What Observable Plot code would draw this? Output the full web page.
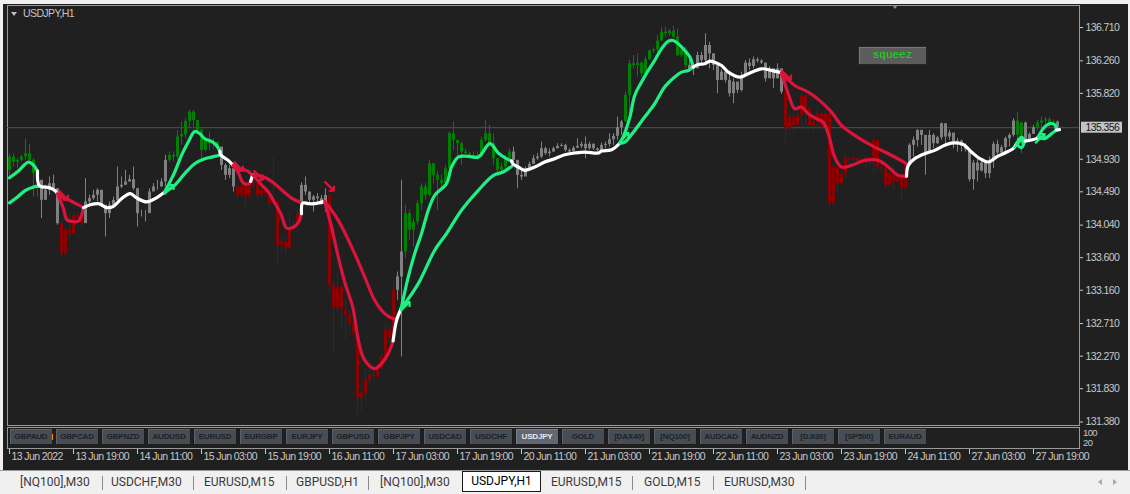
<!DOCTYPE html>
<html><head><meta charset="utf-8">
<script src="https://cdn.jsdelivr.net/npm/d3@7"></script>
<script src="https://cdn.jsdelivr.net/npm/@observablehq/plot@0.6"></script>
<style>
body{margin:0;width:1130px;height:494px;background:#f0f0f0;position:relative;overflow:hidden;font-family:'Liberation Sans',sans-serif}
#win{position:absolute;left:3px;top:4px;width:1125px;height:466px;background:#202020}
#chart{position:absolute;left:0;top:0}
.abs{position:absolute}
.narrow{font-family:'Liberation Sans',sans-serif;letter-spacing:-0.6px}
.btn{position:absolute;top:428px;width:42px;height:15px;background:#474d55;border:1px solid #1c1c1c;box-shadow:inset 1px 1px 0 #5c626a;color:#1e2124;font:bold 8px 'Liberation Sans',sans-serif;letter-spacing:-0.2px;text-align:center;line-height:15px;overflow:hidden;white-space:nowrap}
.btn.on{background:#5f6873;color:#e8e8e8;box-shadow:inset 1px 1px 0 #7a838e}
.tab{position:absolute;top:474px;font:12px Roboto,'Noto Sans',sans-serif;color:#3a3a3a;white-space:nowrap;line-height:16px}
.sep{position:absolute;top:476px;width:1px;height:14px;background:#8a8a8a}
</style></head><body>
<div id="win"></div>
<div id="chart"></div>
<script>
// ---------------- data ----------------
const symbol = "USDJPY,H1";
const firstOpen = 134.78;
const bidPrice = 135.356;
const closes = [
134.960,134.893,134.915,134.960,135.005,134.915,134.735,134.645,134.375,134.510,
134.600,134.533,134.060,133.655,133.970,133.925,134.173,134.128,134.060,134.353,
134.398,134.443,134.510,134.308,134.195,134.308,134.375,134.555,134.578,134.623,
134.654,134.533,134.195,134.195,134.195,134.488,134.555,134.555,134.623,134.915,
134.982,134.960,135.230,135.261,135.441,135.567,135.455,135.320,135.050,135.185,
135.140,135.162,135.095,134.847,134.712,134.802,134.555,134.442,134.577,134.420,
134.622,134.600,134.442,134.510,134.465,134.330,134.352,133.767,133.812,133.722,
133.992,134.037,134.195,134.577,134.487,134.375,134.420,134.397,134.352,134.442,
133.227,132.912,133.205,132.890,132.822,132.710,132.575,131.697,131.765,131.945,
132.012,131.990,132.102,132.260,132.620,132.507,133.160,133.340,133.677,134.195,
133.970,134.082,134.330,134.555,134.442,134.870,134.712,134.645,134.600,134.802,
135.275,135.185,135.140,135.027,135.005,134.982,134.982,134.960,135.185,135.275,
135.140,134.937,134.780,134.825,134.937,135.027,134.915,134.712,134.690,134.802,
134.861,134.937,134.960,135.072,135.005,135.027,135.072,135.104,135.117,135.050,
135.027,135.081,135.104,135.131,135.072,135.131,135.072,135.050,135.117,135.131,
135.194,135.239,135.356,135.432,135.792,136.220,136.197,136.229,136.085,136.274,
136.391,136.409,136.526,136.647,136.625,136.661,136.580,136.332,136.409,136.197,
136.139,136.152,136.332,136.265,136.467,136.355,136.197,135.995,136.107,135.995,
135.815,135.972,135.860,136.062,136.229,136.184,136.274,136.256,136.229,136.017,
136.152,136.017,136.152,135.837,135.342,135.500,135.387,135.522,135.792,135.612,
135.387,135.432,135.545,135.365,135.545,134.330,134.825,134.600,134.735,134.937,
134.915,134.937,134.906,134.879,134.937,134.892,135.185,134.825,134.802,134.577,
134.735,134.622,134.690,134.532,134.847,135.118,135.185,135.320,135.253,135.005,
135.253,135.140,135.221,135.410,135.230,135.284,135.140,135.176,135.104,135.059,
134.654,134.879,134.771,134.879,134.735,134.906,135.131,135.014,135.086,135.208,
135.253,135.446,135.253,135.419,135.185,135.266,135.356,135.419,135.446,135.464,
135.388,135.433,135.356];
const highs = [
135.005,135.000,134.938,134.980,135.208,135.131,134.938,134.780,134.578,134.578,
134.690,134.713,134.398,134.105,134.015,134.195,134.218,134.218,134.150,134.668,
134.443,134.510,134.533,134.510,134.285,134.353,134.420,134.825,134.690,134.780,
134.713,134.825,134.533,134.240,134.240,134.533,134.600,134.645,134.668,134.983,
135.027,135.027,135.320,135.432,135.477,135.590,135.590,135.387,135.342,135.230,
135.297,135.207,135.140,135.072,134.870,134.847,134.735,134.555,134.622,134.600,
134.667,134.690,134.600,134.577,134.532,134.487,134.960,134.352,133.880,133.880,
134.217,134.105,134.240,134.613,134.690,134.487,134.442,134.465,134.442,134.532,
134.375,133.295,133.385,133.205,133.025,132.890,132.890,132.620,131.855,132.080,
132.215,132.080,132.147,132.350,132.710,132.665,133.295,133.407,134.645,134.307,
134.240,134.127,134.375,134.600,134.600,134.915,134.802,134.757,134.712,134.847,
135.297,135.432,135.185,135.162,135.072,135.027,135.027,135.027,135.230,135.455,
135.387,135.275,134.937,134.870,134.982,135.072,135.095,134.915,134.802,134.825,
134.892,134.982,135.005,135.162,135.095,135.072,135.095,135.140,135.140,135.131,
135.072,135.104,135.207,135.162,135.230,135.162,135.140,135.081,135.149,135.162,
135.275,135.275,135.500,135.455,135.837,136.265,136.332,136.355,136.242,136.310,
136.409,136.436,136.602,136.715,136.715,136.679,136.724,136.692,136.445,136.445,
136.274,136.197,136.377,136.377,136.625,136.512,136.242,136.197,136.139,136.139,
136.085,136.017,135.972,136.107,136.265,136.287,136.310,136.301,136.274,136.220,
136.184,136.152,136.220,136.107,136.062,135.545,135.590,135.567,135.837,135.860,
135.590,135.500,135.657,135.522,135.612,135.567,134.870,134.802,134.802,135.005,
134.960,134.969,134.951,134.946,134.982,134.960,135.207,135.185,134.879,134.870,
134.789,134.825,134.744,134.735,134.892,135.140,135.230,135.329,135.320,135.185,
135.320,135.275,135.239,135.419,135.388,135.320,135.208,135.208,135.185,135.140,
135.073,134.915,134.960,134.915,134.893,134.960,135.163,135.185,135.118,135.230,
135.275,135.478,135.568,135.433,135.433,135.284,135.388,135.455,135.500,135.491,
135.491,135.464,135.446];
const lows = [
134.645,134.825,134.803,134.893,134.915,134.893,134.420,134.420,134.128,134.420,
134.443,134.510,134.038,133.588,133.633,133.858,134.015,134.083,133.993,134.240,
134.308,134.375,134.353,134.285,133.880,134.128,134.308,134.375,134.533,134.578,
134.623,134.510,134.015,134.150,134.083,134.375,134.510,134.510,134.555,134.555,
134.892,134.892,134.915,135.117,135.207,135.342,135.365,135.275,134.937,135.027,
135.050,135.072,135.050,134.780,134.645,134.667,134.487,134.375,134.420,134.285,
134.487,134.532,134.397,134.420,134.420,134.285,134.307,133.497,133.677,133.655,
133.700,133.970,133.947,134.195,134.442,134.330,134.217,134.352,134.307,134.217,
133.137,132.305,132.845,132.620,132.485,132.575,132.530,131.472,131.517,131.675,
131.855,131.945,132.012,132.080,132.260,132.462,132.485,133.025,132.260,133.587,
133.835,133.745,134.037,134.240,134.375,134.420,134.600,134.240,134.555,134.577,
134.780,135.050,134.960,134.847,134.960,134.937,134.937,134.915,134.960,135.162,
135.095,134.847,134.712,134.757,134.780,134.915,134.869,134.532,134.645,134.735,
134.802,134.870,134.915,134.937,134.982,134.960,135.027,135.072,135.095,135.027,
135.005,135.041,135.072,135.072,134.937,135.050,135.050,135.027,135.041,135.072,
135.095,135.117,135.185,135.252,135.432,135.455,136.152,136.040,136.040,136.062,
136.265,136.364,136.377,136.535,136.580,136.589,136.560,136.310,136.301,136.152,
136.121,136.062,136.175,136.220,136.220,136.152,136.130,135.815,136.017,135.959,
135.770,135.680,135.815,135.837,136.040,136.130,136.152,136.229,136.211,135.972,
136.076,135.882,136.017,135.806,135.140,135.297,135.275,135.413,135.320,135.320,
135.320,135.275,135.275,135.297,135.342,134.262,134.307,134.465,134.667,134.690,
134.870,134.879,134.870,134.847,134.780,134.847,134.735,134.789,134.757,134.532,
134.645,134.510,134.622,134.330,134.510,134.825,134.960,135.095,135.118,134.713,
135.095,135.073,135.131,135.185,135.118,135.185,135.073,135.028,135.028,135.028,
134.623,134.510,134.623,134.758,134.668,134.668,134.803,134.983,134.969,134.983,
135.095,135.230,135.118,135.005,135.149,135.176,135.275,135.320,135.343,135.401,
135.356,135.374,135.343];
// trend state per bar, run-length: u = up (green), d = down (red), n = neutral (gray)
const stateRuns = [["u",8],["n",5],["d",6],["n",21],["u",13],["n",4],["d",16],["n",7],["d",17],["n",2],
["u",27],["n",28],["u",16],["n",24],["d",31],["n",27],["u",2],["n",3],["u",5],["n",1]];
// fast line knots: [bar, price, state of segment to next knot]
const fastKnots = [
[0,134.68,"u"],[2,134.76,"u"],[4.75,134.89,"u"],[6,134.85,"u"],[7,134.77,"n"],[7.5,134.57,"n"],[10,134.546,"n"],[11.5,134.50,"n"],
[12,134.465,"d"],[13.5,134.26,"d"],[14.3,134.115,"d"],[15.5,134.09,"d"],[17.25,134.096,"d"],[18,134.17,"d"],
[18.5,134.276,"n"],[20.2,134.316,"n"],[22.25,134.33,"n"],[24.3,134.276,"n"],[26,134.294,"n"],[28,134.397,"n"],[30.2,134.465,"n"],[31.8,134.407,"n"],[34.3,134.353,"n"],[36.4,134.398,"n"],
[38.8,134.487,"u"],[41.3,134.757,"u"],[43,134.982,"u"],[44.7,135.162,"u"],[46.3,135.306,"u"],[47.6,135.275,"u"],[48.8,135.207,"u"],[50.5,135.171,"u"],[51.75,135.117,"u"],
[52.6,135.036,"n"],[52.8,134.99,"n"],[54.7,134.915,"n"],
[55.9,134.847,"d"],[57.2,134.748,"d"],[58.4,134.613,"d"],[59.7,134.595,"d"],[60.3,134.631,"n"],
[60.8,134.72,"d"],[63,134.586,"d"],[64.7,134.487,"d"],[66.3,134.343,"d"],[68,134.172,"d"],[69.25,134.001,"d"],[70.9,134.01,"d"],[72.2,134.073,"d"],
[73,134.195,"n"],[73.3,134.339,"n"],[74.7,134.33,"n"],[76.3,134.33,"n"],
[78.8,134.361,"d"],[80.5,134.015,"d"],[82.2,133.61,"d"],[83.8,133.272,"d"],[85.9,132.912,"d"],[87.2,132.485,"d"],[88.8,132.215,"d"],[91.3,132.102,"d"],[93,132.17,"d"],[94.7,132.305,"d"],
[95.9,132.476,"n"],[96.75,132.75,"n"],
[97.9,132.91,"u"],[99.7,133.34,"u"],[101.3,133.655,"u"],[103,133.925,"u"],[104.7,134.24,"u"],[106.3,134.442,"u"],[109.25,134.6,"u"],[110.5,134.825,"u"],[112.2,134.96,"u"],[114.7,134.969,"u"],[117.2,134.96,"u"],[120.1,135.14,"u"],[122.2,135.014,"u"],[124.25,134.937,"u"],
[125.5,134.906,"n"],[126,134.86,"n"],[127.2,134.825,"n"],[128.8,134.78,"n"],[131.3,134.825,"n"],[133.8,134.892,"n"],[136.3,134.937,"n"],[138.8,134.991,"n"],[141.3,135.014,"n"],[143.8,135.027,"n"],[147.2,135.014,"n"],[148,135.041,"n"],[150.5,135.059,"n"],
[152.6,135.149,"u"],[153.4,135.23,"u"],[155.1,135.5,"u"],[156.3,135.792,"u"],[158,135.972,"u"],[159.7,136.13,"u"],[161.3,136.265,"u"],[163,136.422,"u"],[164.7,136.526,"u"],[165.9,136.535,"u"],[167.2,136.49,"u"],[168.8,136.4,"u"],[170.1,136.31,"u"],
[170.9,136.175,"n"],[172.2,136.211,"n"],[173.8,136.22,"n"],[175.1,136.256,"n"],[176.3,136.242,"n"],[178,136.197,"n"],[179.7,136.107,"n"],[182.6,136.04,"n"],[184.7,136.085,"n"],[188,136.152,"n"],[190.5,136.13,"n"],
[193,136.098,"d"],[194.7,135.815,"d"],[196.3,135.612,"d"],[198,135.635,"d"],[199.7,135.545,"d"],[201.75,135.477,"d"],[203.4,135.432,"d"],[204.7,135.275,"d"],[206.3,134.96,"d"],[208,134.825,"d"],[210.5,134.847,"d"],[213.8,134.915,"d"],[217.2,134.915,"d"],[219.7,134.825,"d"],[222.2,134.712,"d"],
[224.25,134.70,"n"],[224.7,134.848,"n"],[226.3,134.938,"n"],[228.8,135.005,"n"],[231.3,135.05,"n"],[233.8,135.118,"n"],[235.5,135.149,"n"],[238.4,135.131,"n"],[240.5,135.028,"n"],[242.6,134.938,"n"],[244.7,134.893,"n"],[246.75,134.96,"n"],[248.8,135.014,"n"],[250.9,135.073,"n"],
[251.75,135.14,"u"],[253,135.23,"u"],[253.8,135.175,"n"],[256.75,135.208,"n"],
[257.2,135.23,"u"],[258.4,135.343,"u"],[260,135.41,"u"],[261.3,135.397,"u"],[261.75,135.325,"n"],[262.5,135.33,"n"]];
// slow line knots (only its trend stretches; "n" = ends, merges with the white line)
const slowKnots = [
[0,134.34,"u"],[2,134.42,"u"],[4,134.51,"u"],[6,134.555,"u"],[7.5,134.57,"n"],
[12,134.465,"d"],[13,134.42,"d"],[15,134.375,"d"],[17,134.32,"d"],[18.5,134.276,"n"],
[38.8,134.487,"u"],[41.3,134.577,"u"],[43.8,134.735,"u"],[46.3,134.87,"u"],[48.8,134.937,"u"],[51.3,134.969,"u"],[52.8,134.99,"n"],
[55.9,134.847,"d"],[57.2,134.811,"d"],[58.4,134.793,"d"],[59.7,134.766,"d"],[60.3,134.735,"n"],
[60.8,134.72,"d"],[63,134.703,"d"],[65.5,134.631,"d"],[68,134.519,"d"],[70.5,134.406,"d"],[73.3,134.339,"n"],
[78.8,134.361,"d"],[82.2,134.105,"d"],[86.3,133.655,"d"],[88.8,133.34,"d"],[91.3,133.025,"d"],[93.8,132.845,"d"],[95.9,132.777,"d"],[96.75,132.777,"n"],
[97.9,132.91,"u"],[102.2,133.25,"u"],[106.3,133.7,"u"],[109.25,133.925,"u"],[113,134.24,"u"],[117.2,134.51,"u"],[121,134.712,"u"],[123.4,134.757,"u"],[125.5,134.833,"n"],
[152.6,135.149,"u"],[153.8,135.162,"u"],[156.3,135.32,"u"],[158.8,135.5,"u"],[161.3,135.68,"u"],[163.8,135.905,"u"],[166.3,136.04,"u"],[168,136.107,"u"],[169.7,136.13,"u"],[170.9,136.175,"n"],
[193,136.098,"d"],[196.3,135.927,"d"],[199.7,135.837,"d"],[203,135.702,"d"],[205.5,135.567,"d"],[208,135.387,"d"],[211.3,135.252,"d"],[215.5,135.117,"d"],[218,135.05,"d"],[221.3,134.96,"d"],[224.25,134.87,"n"],
[251.75,135.14,"u"],[253,135.086,"u"],[253.8,135.175,"n"],
[257.2,135.23,"u"],[258.8,135.208,"u"],[260.5,135.275,"u"],[261.75,135.325,"n"]];
// signal arrows: bar, price, direction
const signalBars   = [13.25, 57, 62, 79.75, 194, 39.75, 98.75, 153.5, 252, 257.5];
const signalPrices = [134.44, 134.82, 134.71, 134.55, 136.06, 134.51, 132.94, 135.225, 135.14, 135.21];
const signalDirs   = ["d","d","d","d","d","u","u","u","u","u"];
const priceTicks = [136.710,136.260,135.820,134.930,134.490,134.040,133.600,133.160,132.710,132.270,131.830,131.380];
const timeTickBars = [0,16,32,48,64,80,96,112,128,144,160,176,192,208,224,240,256];
const timeLabels = ["13 Jun 2022","13 Jun 19:00","14 Jun 11:00","15 Jun 03:00","15 Jun 19:00","16 Jun 11:00","17 Jun 03:00","17 Jun 19:00","20 Jun 11:00","21 Jun 03:00","21 Jun 19:00","22 Jun 11:00","23 Jun 03:00","23 Jun 19:00","24 Jun 11:00","27 Jun 03:00","27 Jun 19:00"];
const buttonLabels = ["GBPAUD","GBPCAD","GBPNZD","AUDUSD","EURUSD","EURGBP","EURJPY","GBPUSD","GBPJPY","USDCAD","USDCHF","USDJPY","GOLD","[DAX40]","[NQ100]","AUDCAD","AUDNZD","[DJI30]","[SP500]","EURAUD"];
const activeButton = "USDJPY";
const tabLabels = ["[NQ100],M30","USDCHF,M30","EURUSD,M15","GBPUSD,H1","[NQ100],M30","USDJPY,H1","EURUSD,M15","GOLD,M15","EURUSD,M30"];
const activeTab = 5;
const indicatorLevels = ["100","20"];
const statusText = "squeez";

// ---------------- build ----------------
const candleColor = {u:"#008000", d:"#8b0000", n:"#808080"};
const lineColor = {u:"#1ef083", d:"#dc143c", n:"#ffffff"};
const barState = stateRuns.flatMap(([s,n]) => Array.from({length:n}, () => s));
const candles = closes.map((c,i) => ({i, open: i === 0 ? firstOpen : closes[i-1], close: c, high: highs[i], low: lows[i], col: candleColor[barState[i]]}));

function runs(knots, skipNeutral){
  const out = []; let id = 0;
  for (let k = 0; k < knots.length - 1;) {
    const s = knots[k][2]; let j = k;
    while (j < knots.length - 1 && knots[j][2] === s) j++;
    if (!(skipNeutral && s === "n")) for (let m = k; m <= j; m++) out.push({bar: knots[m][0], price: knots[m][1], run: id, clr: lineColor[s]});
    id++; k = j;
  }
  return out;
}
const fastPts = runs(fastKnots, false);
const slowPts = runs(slowKnots, true);
const signals = signalBars.map((b,k) => ({bar: b, price: signalPrices[k], dir: signalDirs[k]}));

const chart = Plot.plot({
  width: 1130, height: 469,
  marginLeft: 7, marginRight: 51, marginTop: 5, marginBottom: 44,
  x: {type: "linear", domain: [0, 262], range: [9, 1057], axis: null},
  y: {type: "linear", domain: [131.38, 136.71], range: [421.5, 27], axis: null},
  color: {type: "identity"},
  style: {background: "transparent", color: "#c8c8c8", fontSize: "10.5px", letterSpacing: "-0.6px", fontFamily: "'Liberation Sans',sans-serif", overflow: "visible"},
  marks: [
    Plot.frame({stroke: "#9a9a9a"}),
    Plot.ruleY([bidPrice], {stroke: "#4d5353"}),
    Plot.ruleX(candles, {x: "i", y1: "low", y2: "high", stroke: "col"}),
    Plot.ruleX(candles, {x: "i", y1: "open", y2: "close", stroke: "col", strokeWidth: 3}),
    Plot.line(slowPts, {x: "bar", y: "price", z: "run", stroke: "clr", strokeWidth: 3.2, curve: "catmull-rom"}),
    Plot.line(fastPts, {x: "bar", y: "price", z: "run", stroke: "clr", strokeWidth: 3.2, curve: "catmull-rom"}),
    Plot.text(signals, {x: "bar", y: "price", text: d => d.dir === "d" ? "↘" : "↗", fill: d => lineColor[d.dir], fontSize: 19, fontWeight: "bold", fontFamily: "DejaVu Sans"}),
    Plot.axisY(priceTicks, {anchor: "right", tickSize: 3, tickPadding: 3, tickFormat: d => d.toFixed(3), label: null}),
    Plot.ruleX(timeTickBars, {x: d => d, insetTop: 415, dy: 29, stroke: "#c8c8c8"}),
    Plot.text(timeTickBars, {x: d => d, text: (d,i) => timeLabels[i], frameAnchor: "bottom", dy: 34, dx: 2, textAnchor: "start", fill: "#c8c8c8"}),
    Plot.text([bidPrice], {y: d => d, frameAnchor: "right", dx: 6, textAnchor: "start", text: d => d.toFixed(3), fill: "#151515"})
  ]
});
document.getElementById("chart").appendChild(chart);
// light box behind the current-price label, placed with the y scale
const yBid = chart.scale("y").apply(bidPrice);
const bidText = [...chart.querySelectorAll("text")].find(t => t.textContent === bidPrice.toFixed(3));
const bidGroup = bidText ? bidText.closest("g") : null;
const box = document.createElementNS("http://www.w3.org/2000/svg", "rect");
box.setAttribute("x", 1081); box.setAttribute("y", yBid - 5.5); box.setAttribute("width", 41); box.setAttribute("height", 11); box.setAttribute("fill", "#c4c4c4");
chart.appendChild(box);
if (bidGroup) chart.appendChild(bidGroup);

// ---------------- chrome ----------------
function el(cls, style, text){ const d = document.createElement("div"); d.className = cls; d.setAttribute("style", style); if (text != null) d.textContent = text; document.body.appendChild(d); return d; }
el("abs", "left:11px;top:12px;width:0;height:0;border-left:3.5px solid transparent;border-right:3.5px solid transparent;border-top:4px solid #c0c0c0");
el("abs narrow", "left:23px;top:7px;color:#c4c4c4;font-size:10.5px;line-height:13px", symbol);
el("abs", "left:892px;top:5px;width:0;height:0;border-left:3px solid transparent;border-right:3px solid transparent;border-top:4px solid #8a8a8a");
el("abs", "left:858px;top:46px;width:67px;height:17px;background:#5c5c5c;border:1px solid #262626;box-shadow:inset 1px 1px 0 #777;color:#10e010;font:11px 'Liberation Mono',monospace;text-align:center;line-height:17px", statusText);
el("abs", "left:7px;top:427px;width:1071px;height:20px;border:1px solid #9a9a9a");
indicatorLevels.forEach((t,k) => el("abs narrow", `left:1083px;top:${428 + 10*k}px;color:#c8c8c8;font-size:9.5px;line-height:9px`, t));
buttonLabels.forEach((b,k) => el("btn" + (b === activeButton ? " on" : ""), `left:${9 + 46*k}px`, b));
el("abs", "left:52px;top:434px;width:1px;height:6px;background:#ff8c00");
// tab bar
el("abs", "left:0;top:470px;width:1130px;height:1px;background:#9a9a9a");
const tabLeft = [20,111,204,296,380,462,551,644,724];
const sepLeft = [102,193,286,368,632,713,805];
tabLabels.forEach((t,k) => {
  if (k === activeTab) el("tab", `left:${tabLeft[k]}px;top:471px;width:77px;height:19px;background:#fff;border:1px solid #1a1a1a;color:#000;text-align:center;line-height:19px`, t);
  else el("tab", `left:${tabLeft[k]}px`, t);
});
sepLeft.forEach(x => el("sep", `left:${x}px`));
el("abs", "left:1098px;top:479px;width:0;height:0;border-top:3.5px solid transparent;border-bottom:3.5px solid transparent;border-right:4px solid #a8a8a8");
el("abs", "left:1113px;top:479px;width:0;height:0;border-top:3.5px solid transparent;border-bottom:3.5px solid transparent;border-left:4px solid #a8a8a8");
</script>
</body></html>
